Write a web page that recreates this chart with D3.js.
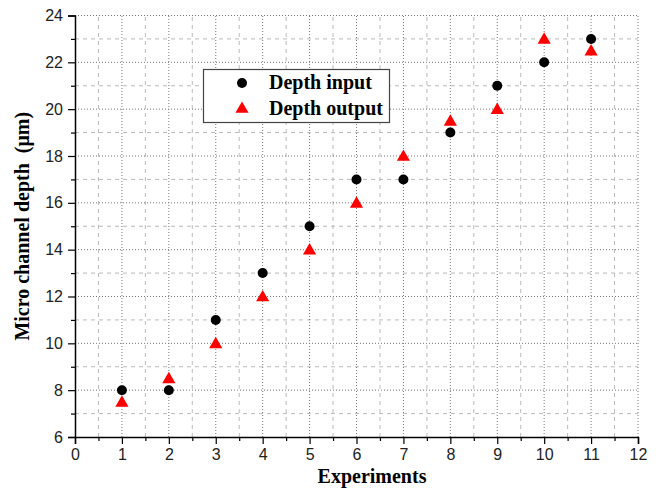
<!DOCTYPE html>
<html>
<head>
<meta charset="utf-8">
<script src="https://cdn.jsdelivr.net/npm/d3@7"></script>
<style>
  body { margin: 0; background: #fff; }
</style>
</head>
<body>
<svg id="chart" width="659" height="490"></svg>
<script>
// chart data
const experiments = [1, 2, 3, 4, 5, 6, 7, 8, 9, 10, 11];
const depthInput = [8, 8, 11, 13, 15, 17, 17, 19, 21, 22, 23];
const depthOutput = [7.5, 8.5, 10, 12, 14, 16, 18, 19.5, 20, 23, 22.5];
const xTicks = d3.range(0, 13, 1);
const yTicks = d3.range(6, 25, 2);

const svg = d3.select("#chart");
const margin = { left: 75, right: 21, top: 15.5, bottom: 53 };
const width = +svg.attr("width"),
  height = +svg.attr("height");

const x = d3.scaleLinear().domain([0, 12]).range([margin.left, width - margin.right]);
const y = d3.scaleLinear().domain([6, 24]).range([height - margin.bottom, margin.top]);

const serif = "'Liberation Serif', 'Times New Roman', serif";

// grid: minor dashed, major dotted
const grid = svg.append("g").attr("class", "grid");
const xMinor = d3.range(0.5, 12, 1);
const yMinor = d3.range(7, 24, 2);

grid.selectAll("line.xmin").data(xMinor).enter().append("line")
  .attr("x1", (d) => x(d)).attr("x2", (d) => x(d))
  .attr("y1", y(6)).attr("y2", y(24))
  .attr("stroke", "#bbb").attr("stroke-width", 1).attr("stroke-dasharray", "4,4");
grid.selectAll("line.ymin").data(yMinor).enter().append("line")
  .attr("x1", x(0)).attr("x2", x(12))
  .attr("y1", (d) => y(d)).attr("y2", (d) => y(d))
  .attr("stroke", "#bbb").attr("stroke-width", 1).attr("stroke-dasharray", "4,4");
grid.selectAll("line.xmaj").data(xTicks.slice(1)).enter().append("line")
  .attr("x1", (d) => x(d)).attr("x2", (d) => x(d))
  .attr("y1", y(6)).attr("y2", y(24))
  .attr("stroke", "#777").attr("stroke-width", 1).attr("stroke-dasharray", "1,2");
grid.selectAll("line.ymaj").data(yTicks.slice(1)).enter().append("line")
  .attr("x1", x(0)).attr("x2", x(12))
  .attr("y1", (d) => y(d)).attr("y2", (d) => y(d))
  .attr("stroke", "#777").attr("stroke-width", 1).attr("stroke-dasharray", "1,2");

// axes
svg.append("g")
  .attr("transform", `translate(0,${y(6)})`)
  .call(d3.axisBottom(x).tickValues(xTicks).tickFormat(d3.format("d")).tickSize(7).tickPadding(5));
svg.append("g")
  .attr("transform", `translate(0,${y(6)})`)
  .call(d3.axisBottom(x).tickValues(xMinor).tickFormat("").tickSize(4))
  .select(".domain").remove();

svg.append("g")
  .attr("transform", `translate(${x(0)},0)`)
  .call(d3.axisLeft(y).tickValues(yTicks).tickFormat(d3.format("d")).tickSize(7).tickPadding(5));
svg.append("g")
  .attr("transform", `translate(${x(0)},0)`)
  .call(d3.axisLeft(y).tickValues(yMinor).tickFormat("").tickSize(4))
  .select(".domain").remove();

svg.selectAll(".domain").attr("stroke", "#000").attr("stroke-width", 1.5);
svg.selectAll(".tick line").attr("stroke", "#000").attr("stroke-width", 1.2);
svg.selectAll(".tick text")
  .attr("font-family", "Arial, 'Liberation Sans', sans-serif")
  .attr("font-size", 16)
  .attr("fill", "#222");

// axis titles
svg.append("text")
  .attr("x", 372).attr("y", 483)
  .attr("text-anchor", "middle")
  .style("font-family", serif)
  .style("font-weight", "bold").style("font-size", "20px")
  .text("Experiments");
svg.append("text")
  .attr("transform", `translate(29,${y(15)}) rotate(-90)`)
  .attr("text-anchor", "middle")
  .style("font-family", serif)
  .style("font-weight", "bold").style("font-size", "20px")
  .style("white-space", "pre")
  .text("Micro channel depth  (\u03bcm)");

// points
const tri = d3.symbol().type(d3.symbolTriangle).size(75);
svg.append("g").selectAll("path").data(experiments).enter().append("path")
  .attr("d", tri)
  .attr("transform", (d, i) => `translate(${x(d)},${y(depthOutput[i]) + 1})`)
  .attr("fill", "#f00");
svg.append("g").selectAll("circle").data(experiments).enter().append("circle")
  .attr("cx", (d) => x(d))
  .attr("cy", (d, i) => y(depthInput[i]))
  .attr("r", 5)
  .attr("fill", "#000");

// legend
const legend = svg.append("g");
legend.append("rect")
  .attr("x", 203.5).attr("y", 69.5).attr("width", 186).attr("height", 53)
  .attr("fill", "#fff").attr("stroke", "#444").attr("stroke-width", 1.2);
legend.append("circle").attr("cx", 242).attr("cy", 83).attr("r", 5).attr("fill", "#000");
legend.append("path").attr("d", tri).attr("transform", "translate(242,109)").attr("fill", "#f00");
legend.selectAll("text").data(["Depth input", "Depth output"]).enter().append("text")
  .attr("x", 269).attr("y", (d, i) => 89 + i * 26)
  .style("font-family", serif)
  .style("font-weight", "bold").style("font-size", "20px")
  .text((d) => d);
</script>
</body>
</html>
